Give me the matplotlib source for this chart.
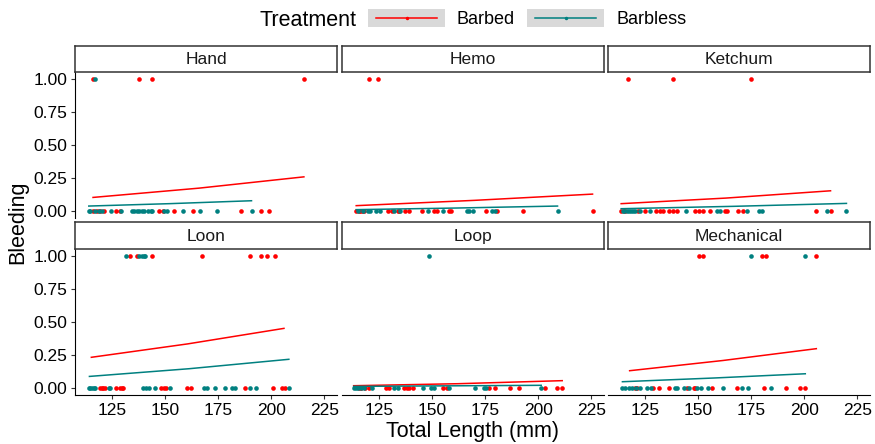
import matplotlib.pyplot as plt
from matplotlib.patches import Rectangle
from matplotlib.lines import Line2D

plt.rcParams['font.family'] = ['Liberation Sans', 'DejaVu Sans']

RED = '#FF0000'
TEAL = '#008080'

panels = ['Hand', 'Hemo', 'Ketchum', 'Loon', 'Loop', 'Mechanical']
treatments = ['Barbed', 'Barbless']

# Total length (mm) of fish that bled (Bleeding = 1)
hand_barbed_1 = [115.8, 137.7, 143.9, 215.4]
hand_barbless_1 = [117.1]
hemo_barbed_1 = [120.3, 124.5]
hemo_barbless_1 = []
ketchum_barbed_1 = [116.8, 138.2, 175.1]
ketchum_barbless_1 = []
loon_barbed_1 = [133.5, 136.9, 143.9, 167.3, 189.8, 195.0, 198.1, 202.0]
loon_barbless_1 = [131.6, 137.7, 139.0, 140.2, 140.7]
loop_barbed_1 = []
loop_barbless_1 = [148.7]
mech_barbed_1 = [150.3, 152.4, 179.9, 182.1, 205.7]
mech_barbless_1 = [175.1, 200.5]

# Total length (mm) of fish that did not bleed (Bleeding = 0)
hand_barbed_0 = [116.0, 117.9, 119.5, 121.0, 126.6, 128.6, 147.0, 148.9, 154.1,
                 163.2, 185.8, 195.0, 199.0]
hand_barbless_0 = [114.0, 114.8, 117.0, 118.6, 120.2, 124.5, 129.4, 134.4, 135.5,
                   136.7, 137.8, 138.9, 139.9, 141.8, 143.1, 144.0, 149.6, 150.9,
                   158.5, 166.3, 174.5, 190.7]
hemo_barbed_0 = [114.2, 115.4, 116.2, 117.0, 118.0, 129.2, 131.1, 133.8, 134.5,
                 137.4, 139.3, 145.0, 151.1, 152.4, 157.8, 159.1, 175.5, 180.7,
                 192.7, 225.6]
hemo_barbless_0 = [115.0, 117.5, 119.8, 120.5, 123.3, 125.3, 131.9, 135.0, 147.9,
                   155.2, 166.2, 167.5, 169.3, 178.4, 179.5, 209.1]
ketchum_barbed_0 = [113.7, 115.7, 121.5, 124.8, 129.9, 132.2, 133.2, 136.1, 138.2,
                    140.1, 148.4, 150.3, 152.4, 155.5, 162.5, 163.7, 168.7, 171.0,
                    205.7, 212.4]
ketchum_barbless_0 = [114.5, 115.2, 116.5, 117.5, 118.5, 119.3, 120.4, 122.8, 127.2,
                      144.5, 159.0, 160.2, 172.8, 178.8, 180.2, 210.8, 219.9]
loon_barbed_0 = [119.2, 120.3, 120.8, 121.8, 126.6, 128.6, 129.5, 130.2, 148.1,
                 149.5, 150.6, 160.4, 162.3, 187.5, 200.9, 205.2, 206.3]
loon_barbless_0 = [114.0, 114.8, 115.6, 116.3, 117.1, 123.4, 124.0, 139.6, 141.2,
                   142.3, 145.0, 152.5, 168.2, 169.5, 173.3, 178.4, 181.6, 182.7,
                   189.9, 192.9, 208.3]
loop_barbed_0 = [115.4, 116.5, 118.5, 120.1, 128.4, 129.5, 136.6, 138.0, 139.0,
                 141.0, 155.2, 157.1, 176.7, 179.4, 186.6, 190.8, 203.0, 209.0, 211.3]
loop_barbless_0 = [113.0, 114.0, 115.0, 116.5, 117.7, 121.7, 132.2, 133.8, 145.8,
                   149.5, 150.8, 157.8, 170.1, 174.3, 175.5, 201.4]
mech_barbed_0 = [120.0, 121.2, 128.8, 131.7, 136.1, 144.8, 147.9, 148.5, 156.6,
                 168.4, 180.9, 191.2, 197.8, 200.5]
mech_barbless_0 = [114.2, 115.7, 117.3, 118.9, 120.5, 122.8, 125.9, 127.8, 139.3,
                   140.0, 143.2, 145.5, 149.5, 151.4, 154.5, 161.6, 170.8, 173.6, 184.1]

# Fitted probability of bleeding (start, middle, end of each curve)
hand_barbed_fit_x, hand_barbed_fit_y = [116.0, 166.0, 215.4], [0.105, 0.175, 0.26]
hand_barbless_fit_x, hand_barbless_fit_y = [114.0, 152.0, 190.7], [0.04, 0.058, 0.08]
hemo_barbed_fit_x, hemo_barbed_fit_y = [114.2, 170.0, 225.6], [0.043, 0.083, 0.13]
hemo_barbless_fit_x, hemo_barbless_fit_y = [114.2, 161.0, 209.1], [0.013, 0.025, 0.04]
ketchum_barbed_fit_x, ketchum_barbed_fit_y = [113.7, 163.0, 212.4], [0.058, 0.10, 0.155]
ketchum_barbless_fit_x, ketchum_barbless_fit_y = [113.7, 167.0, 219.9], [0.02, 0.038, 0.06]
loon_barbed_fit_x, loon_barbed_fit_y = [115.2, 160.6, 206.0], [0.234, 0.335, 0.452]
loon_barbless_fit_x, loon_barbless_fit_y = [114.3, 161.3, 208.3], [0.09, 0.148, 0.219]
loop_barbed_fit_x, loop_barbed_fit_y = [113.0, 162.0, 211.3], [0.02, 0.035, 0.058]
loop_barbless_fit_x, loop_barbless_fit_y = [113.0, 157.0, 201.4], [0.015, 0.019, 0.023]
mech_barbed_fit_x, mech_barbed_fit_y = [117.7, 161.7, 205.7], [0.133, 0.21, 0.299]
mech_barbless_fit_x, mech_barbless_fit_y = [114.3, 157.4, 200.5], [0.05, 0.078, 0.11]

x_ticks = [125, 150, 175, 200, 225]
y_ticks = [0.0, 0.25, 0.5, 0.75, 1.0]
y_ticklabels = ['0.00', '0.25', '0.50', '0.75', '1.00']

bled = {
    'Hand': (hand_barbed_1, hand_barbless_1),
    'Hemo': (hemo_barbed_1, hemo_barbless_1),
    'Ketchum': (ketchum_barbed_1, ketchum_barbless_1),
    'Loon': (loon_barbed_1, loon_barbless_1),
    'Loop': (loop_barbed_1, loop_barbless_1),
    'Mechanical': (mech_barbed_1, mech_barbless_1),
}
clean = {
    'Hand': (hand_barbed_0, hand_barbless_0),
    'Hemo': (hemo_barbed_0, hemo_barbless_0),
    'Ketchum': (ketchum_barbed_0, ketchum_barbless_0),
    'Loon': (loon_barbed_0, loon_barbless_0),
    'Loop': (loop_barbed_0, loop_barbless_0),
    'Mechanical': (mech_barbed_0, mech_barbless_0),
}
fits = {
    'Hand': ((hand_barbed_fit_x, hand_barbed_fit_y), (hand_barbless_fit_x, hand_barbless_fit_y)),
    'Hemo': ((hemo_barbed_fit_x, hemo_barbed_fit_y), (hemo_barbless_fit_x, hemo_barbless_fit_y)),
    'Ketchum': ((ketchum_barbed_fit_x, ketchum_barbed_fit_y), (ketchum_barbless_fit_x, ketchum_barbless_fit_y)),
    'Loon': ((loon_barbed_fit_x, loon_barbed_fit_y), (loon_barbless_fit_x, loon_barbless_fit_y)),
    'Loop': ((loop_barbed_fit_x, loop_barbed_fit_y), (loop_barbless_fit_x, loop_barbless_fit_y)),
    'Mechanical': ((mech_barbed_fit_x, mech_barbed_fit_y), (mech_barbless_fit_x, mech_barbless_fit_y)),
}
colors = [RED, TEAL]

# layout in pixels of the 875x444 figure
W, H = 875, 444
col_left = [75, 342, 608]
col_w = 262
row_top = [72, 249]       # top of plotting area
row_h = 146
strip_top = [46, 222]
strip_h = [26, 27]

fig = plt.figure(figsize=(W / 100, H / 100), dpi=100)

for i, name in enumerate(panels):
    row, col = divmod(i, 3)
    ax = fig.add_axes([col_left[col] / W, 1 - (row_top[row] + row_h) / H,
                       col_w / W, row_h / H])
    for k in range(2):
        xs1 = bled[name][k]
        xs0 = clean[name][k]
        ax.scatter(xs0, [0] * len(xs0), s=11, color=colors[k], lw=0, zorder=3)
        ax.scatter(xs1, [1] * len(xs1), s=11, color=colors[k], lw=0, zorder=3)
    for k in range(2):
        fx, fy = fits[name][k]
        ax.plot(fx, fy, color=colors[k], lw=1.1, zorder=4)

    ax.set_xlim(107.5, 231)
    ax.set_ylim(-0.05, 1.05)
    for s in ['top', 'right']:
        ax.spines[s].set_visible(False)
    ax.spines['left'].set_visible(col == 0)
    ax.spines['bottom'].set_visible(row == 1)
    for s in ['left', 'bottom']:
        ax.spines[s].set_color('black')
        ax.spines[s].set_linewidth(0.8)
    ax.set_xticks(x_ticks)
    ax.set_yticks(y_ticks)
    ax.tick_params(length=3, width=0.8, color='#333333', labelsize=12.5,
                   labelcolor='black', pad=2.5)
    if col == 0:
        ax.set_yticklabels(y_ticklabels)
    else:
        ax.tick_params(axis='y', left=False, labelleft=False)
    if row == 0:
        ax.tick_params(axis='x', bottom=False, labelbottom=False)

    # facet strip
    sa = fig.add_axes([col_left[col] / W, 1 - (strip_top[row] + strip_h[row]) / H,
                       col_w / W, strip_h[row] / H])
    sa.set_xticks([])
    sa.set_yticks([])
    for s in sa.spines.values():
        s.set_color('#333333')
        s.set_linewidth(1.1)
    sa.text(0.5, 0.47, name, ha='center', va='center', fontsize=12.5,
            color='#1A1A1A', transform=sa.transAxes)

fig.text(472 / W, 1 - 431 / H, 'Total Length (mm)', ha='center', va='center',
         fontsize=15.5)
fig.text(18 / W, 1 - 222 / H, 'Bleeding', ha='center', va='center',
         rotation=90, fontsize=15.5)

# legend drawn on an overlay in pixel coordinates
lg = fig.add_axes([0, 0, 1, 1], facecolor='none')
lg.set_xlim(0, W)
lg.set_ylim(H, 0)
lg.axis('off')
lg.text(260, 20, 'Treatment', ha='left', va='center', fontsize=15.5)
for key_x, label, c in [(368, 'Barbed', RED), (527, 'Barbless', TEAL)]:
    lg.add_patch(Rectangle((key_x, 9), 77, 18.5, color='#D9D9D9', lw=0))
    lg.add_line(Line2D([key_x + 8, key_x + 69], [18.3, 18.3], color=c, lw=1.1))
    lg.plot([key_x + 38.5], [18.3], 'o', color=c, ms=2.5, mew=0)
    lg.text(key_x + 89, 20, label, ha='left', va='center', fontsize=13)

fig.savefig('out.png', dpi=100)
